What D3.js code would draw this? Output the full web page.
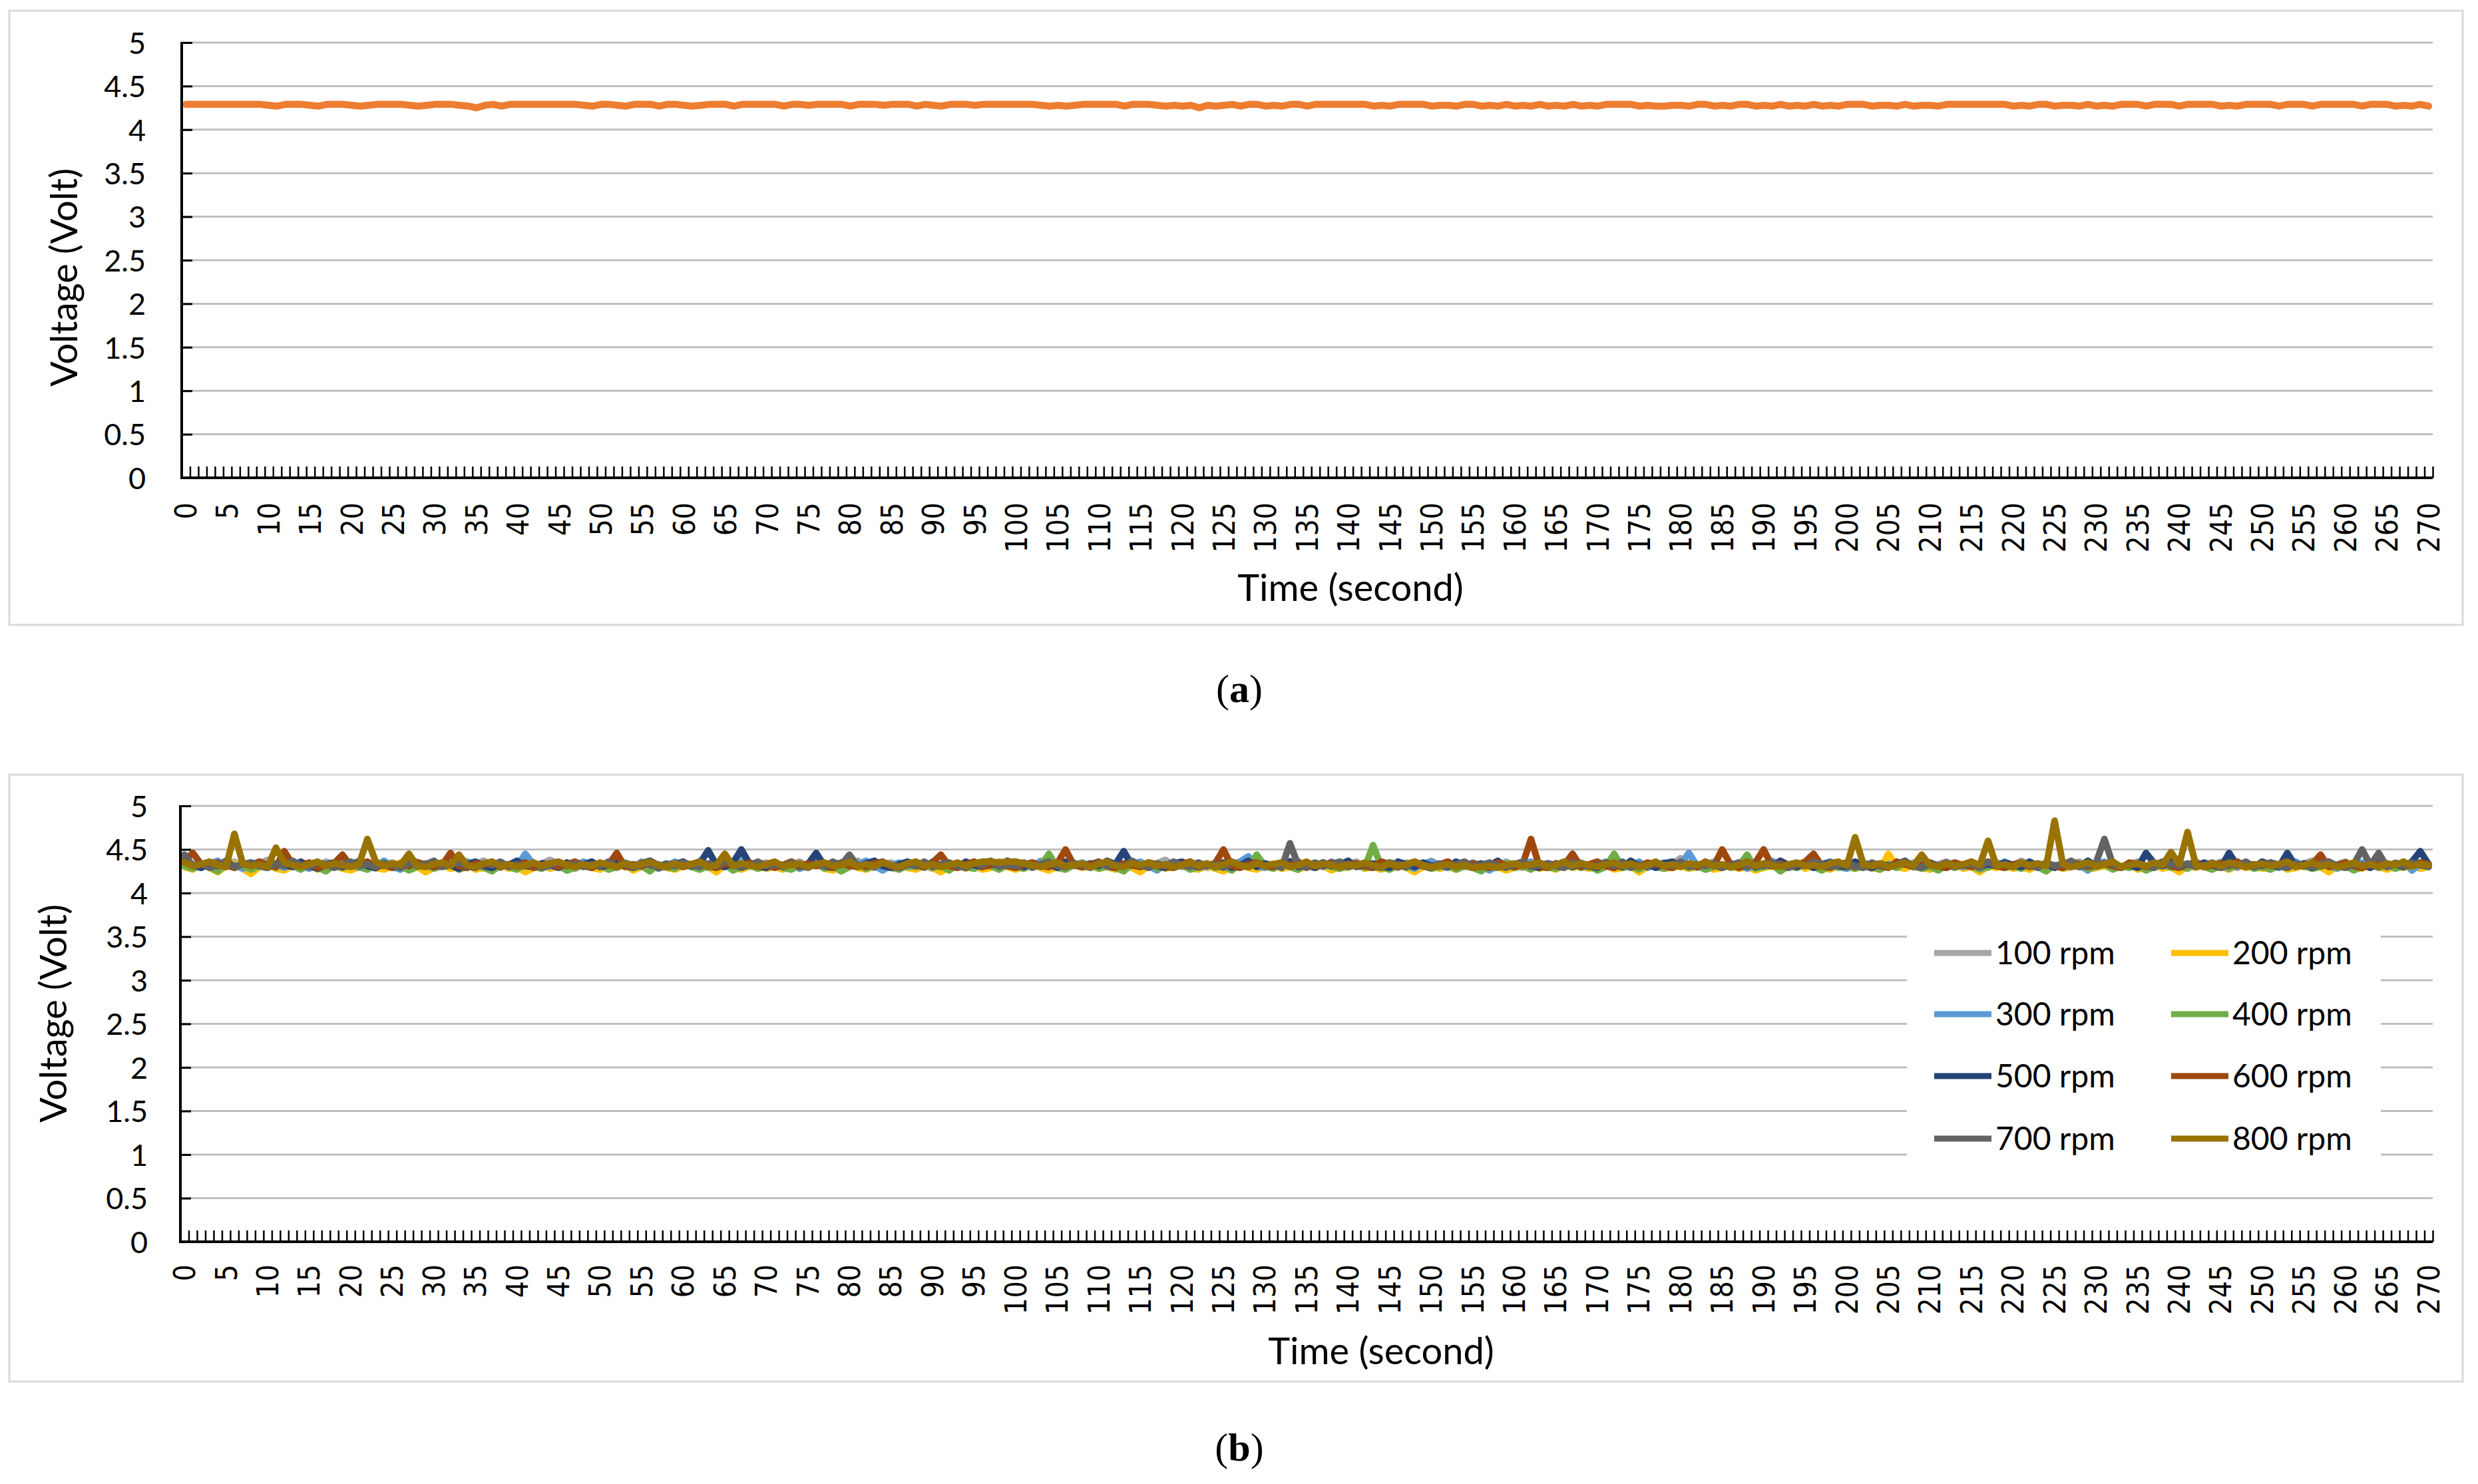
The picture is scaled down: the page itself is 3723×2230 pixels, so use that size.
<!DOCTYPE html>
<html><head><meta charset="utf-8">
<script src="https://cdn.jsdelivr.net/npm/d3@7"></script>
<style>html,body{margin:0;padding:0;background:#fff;}svg{display:block;}</style>
</head><body>
<div id="chart"></div>
<script>
// ---------- DATA ----------
const timeSeconds = d3.range(0, 271);             // categories 0..270 s
const yTickValues = [0,0.5,1,1.5,2,2.5,3,3.5,4,4.5,5];
const xLabelEvery = 5;

// Panel (a): single sensor voltage
const voltageA = [
4.29,4.29,4.29,4.29,4.29,4.29,4.29,4.29,4.29,4.29,
4.28,4.27,4.29,4.29,4.29,4.28,4.27,4.29,4.29,4.29,
4.28,4.27,4.28,4.29,4.29,4.29,4.29,4.28,4.27,4.28,
4.29,4.29,4.29,4.28,4.27,4.25,4.28,4.29,4.27,4.29,
4.29,4.29,4.29,4.29,4.29,4.29,4.29,4.29,4.28,4.27,
4.29,4.29,4.28,4.27,4.29,4.29,4.29,4.27,4.29,4.29,
4.28,4.27,4.28,4.29,4.29,4.29,4.27,4.29,4.29,4.29,
4.29,4.29,4.27,4.29,4.29,4.28,4.29,4.29,4.29,4.29,
4.27,4.29,4.29,4.29,4.28,4.29,4.29,4.29,4.27,4.29,
4.28,4.27,4.29,4.29,4.29,4.28,4.29,4.29,4.29,4.29,
4.29,4.29,4.29,4.28,4.27,4.28,4.27,4.28,4.29,4.29,
4.29,4.29,4.29,4.27,4.29,4.29,4.29,4.28,4.27,4.28,
4.27,4.28,4.25,4.28,4.27,4.28,4.29,4.27,4.29,4.29,
4.27,4.28,4.27,4.29,4.29,4.27,4.29,4.29,4.29,4.29,
4.29,4.29,4.29,4.27,4.28,4.27,4.29,4.29,4.29,4.29,
4.27,4.28,4.28,4.27,4.29,4.29,4.27,4.28,4.27,4.29,
4.27,4.28,4.27,4.29,4.27,4.28,4.27,4.29,4.27,4.28,
4.27,4.29,4.29,4.29,4.29,4.27,4.28,4.27,4.27,4.28,
4.28,4.27,4.29,4.29,4.27,4.28,4.27,4.29,4.29,4.27,
4.28,4.27,4.29,4.27,4.28,4.27,4.29,4.27,4.28,4.27,
4.29,4.29,4.29,4.27,4.28,4.28,4.27,4.29,4.27,4.28,
4.28,4.27,4.29,4.29,4.29,4.29,4.29,4.29,4.29,4.29,
4.27,4.28,4.27,4.29,4.29,4.27,4.28,4.28,4.27,4.29,
4.27,4.28,4.27,4.29,4.29,4.29,4.27,4.29,4.29,4.29,
4.27,4.29,4.29,4.29,4.29,4.27,4.28,4.27,4.29,4.29,
4.29,4.29,4.27,4.29,4.29,4.29,4.27,4.29,4.29,4.29,
4.29,4.29,4.27,4.29,4.29,4.29,4.27,4.28,4.27,4.29,
4.27];

// Panel (b): voltage at each motor speed
const seriesNames = ["100 rpm","200 rpm","300 rpm","400 rpm","500 rpm","600 rpm","700 rpm","800 rpm"];
const rpm100 = [
4.40,4.33,4.31,4.35,4.30,4.33,4.36,4.31,4.29,4.34,
4.38,4.32,4.30,4.35,4.33,4.29,4.31,4.36,4.33,4.30,
4.34,4.37,4.31,4.28,4.33,4.35,4.30,4.32,4.36,4.31,
4.29,4.33,4.35,4.31,4.30,4.34,4.37,4.32,4.29,4.33,
4.36,4.31,4.30,4.34,4.38,4.33,4.30,4.28,4.33,4.35,
4.31,4.29,4.34,4.32,4.30,4.36,4.33,4.29,4.31,4.35,
4.33,4.30,4.37,4.32,4.29,4.34,4.31,4.36,4.30,4.33,
4.35,4.31,4.28,4.33,4.36,4.30,4.32,4.35,4.29,4.31,
4.34,4.37,4.31,4.29,4.33,4.35,4.30,4.32,4.36,4.31,
4.28,4.33,4.35,4.30,4.32,4.34,4.29,4.31,4.36,4.33,
4.30,4.34,4.31,4.37,4.33,4.29,4.32,4.35,4.31,4.30,
4.35,4.32,4.29,4.33,4.36,4.31,4.30,4.34,4.38,4.32,
4.30,4.33,4.35,4.29,4.31,4.34,4.32,4.30,4.36,4.33,
4.31,4.29,4.34,4.37,4.32,4.30,4.33,4.35,4.31,4.28,
4.33,4.36,4.31,4.30,4.34,4.32,4.29,4.35,4.33,4.31,
4.37,4.32,4.30,4.33,4.35,4.29,4.31,4.34,4.30,4.36,
4.32,4.29,4.33,4.35,4.31,4.30,4.34,4.37,4.32,4.30,
4.33,4.36,4.31,4.29,4.35,4.32,4.30,4.34,4.31,4.33,
4.40,4.31,4.29,4.33,4.36,4.30,4.32,4.35,4.31,4.28,
4.34,4.37,4.32,4.30,4.33,4.35,4.29,4.31,4.36,4.33,
4.30,4.34,4.31,4.28,4.33,4.36,4.30,4.32,4.35,4.31,
4.29,4.33,4.36,4.31,4.30,4.34,4.32,4.29,4.35,4.33,
4.31,4.37,4.32,4.30,4.34,4.31,4.29,4.33,4.36,4.30,
4.32,4.35,4.31,4.29,4.33,4.36,4.30,4.32,4.34,4.31,
4.28,4.33,4.35,4.30,4.32,4.36,4.31,4.29,4.34,4.32,
4.30,4.35,4.33,4.29,4.31,4.34,4.37,4.32,4.30,4.33,
4.36,4.31,4.29,4.34,4.32,4.30,4.35,4.33,4.31,4.29,
4.34];
const rpm200 = [
4.30,4.27,4.33,4.29,4.24,4.31,4.34,4.28,4.22,4.30,
4.33,4.28,4.26,4.31,4.29,4.34,4.27,4.30,4.32,4.28,
4.26,4.30,4.33,4.29,4.27,4.31,4.35,4.28,4.30,4.24,
4.29,4.32,4.28,4.30,4.34,4.27,4.29,4.31,4.33,4.28,
4.30,4.24,4.29,4.33,4.28,4.31,4.27,4.30,4.34,4.29,
4.27,4.31,4.29,4.32,4.26,4.30,4.28,4.33,4.29,4.27,
4.31,4.34,4.28,4.30,4.24,4.32,4.29,4.27,4.31,4.33,
4.28,4.30,4.27,4.32,4.29,4.31,4.35,4.28,4.26,4.30,
4.33,4.29,4.27,4.31,4.28,4.30,4.34,4.29,4.27,4.31,
4.29,4.24,4.30,4.33,4.28,4.31,4.27,4.29,4.32,4.30,
4.27,4.31,4.34,4.29,4.26,4.30,4.28,4.33,4.29,4.31,
4.28,4.30,4.27,4.32,4.29,4.24,4.31,4.34,4.28,4.30,
4.33,4.29,4.27,4.31,4.28,4.25,4.30,4.32,4.29,4.27,
4.31,4.34,4.28,4.30,4.27,4.32,4.29,4.31,4.26,4.30,
4.29,4.33,4.28,4.30,4.27,4.31,4.34,4.29,4.24,4.30,
4.32,4.28,4.30,4.27,4.31,4.29,4.33,4.28,4.30,4.26,
4.29,4.31,4.34,4.28,4.30,4.27,4.32,4.29,4.31,4.28,
4.30,4.33,4.27,4.29,4.31,4.24,4.30,4.34,4.28,4.29,
4.31,4.28,4.30,4.33,4.27,4.29,4.32,4.28,4.30,4.26,
4.29,4.31,4.27,4.30,4.34,4.28,4.31,4.29,4.27,4.32,
4.30,4.28,4.31,4.29,4.27,4.45,4.30,4.28,4.32,4.29,
4.27,4.31,4.29,4.33,4.28,4.30,4.24,4.31,4.29,4.34,
4.28,4.30,4.27,4.32,4.29,4.31,4.28,4.30,4.33,4.27,
4.29,4.31,4.28,4.30,4.34,4.27,4.29,4.32,4.28,4.30,
4.24,4.31,4.29,4.33,4.28,4.30,4.27,4.32,4.29,4.31,
4.28,4.30,4.33,4.27,4.29,4.31,4.28,4.30,4.24,4.32,
4.29,4.31,4.28,4.34,4.30,4.27,4.31,4.29,4.32,4.28,
4.30];
const rpm300 = [
4.35,4.31,4.29,4.34,4.37,4.30,4.32,4.28,4.33,4.36,
4.30,4.33,4.29,4.35,4.31,4.28,4.34,4.32,4.30,4.36,
4.32,4.29,4.34,4.31,4.37,4.30,4.27,4.33,4.35,4.31,
4.29,4.34,4.32,4.30,4.36,4.33,4.29,4.31,4.35,4.32,
4.30,4.45,4.33,4.29,4.31,4.34,4.26,4.32,4.36,4.30,
4.33,4.31,4.29,4.35,4.32,4.30,4.34,4.28,4.31,4.36,
4.32,4.30,4.33,4.29,4.35,4.31,4.34,4.47,4.32,4.29,
4.31,4.35,4.30,4.33,4.28,4.32,4.36,4.31,4.29,4.34,
4.30,4.33,4.37,4.31,4.26,4.32,4.35,4.30,4.33,4.29,
4.36,4.32,4.30,4.34,4.31,4.28,4.33,4.35,4.30,4.32,
4.29,4.34,4.31,4.36,4.30,4.33,4.28,4.32,4.35,4.31,
4.33,4.30,4.29,4.34,4.32,4.36,4.31,4.26,4.33,4.30,
4.35,4.32,4.29,4.31,4.34,4.30,4.33,4.36,4.42,4.31,
4.29,4.33,4.35,4.31,4.28,4.32,4.34,4.30,4.36,4.32,
4.30,4.34,4.31,4.29,4.33,4.35,4.30,4.32,4.28,4.34,
4.36,4.31,4.29,4.33,4.30,4.35,4.32,4.26,4.31,4.34,
4.30,4.33,4.36,4.31,4.29,4.34,4.32,4.30,4.35,4.31,
4.28,4.33,4.30,4.34,4.31,4.36,4.29,4.32,4.35,4.30,
4.33,4.46,4.31,4.29,4.34,4.32,4.30,4.35,4.28,4.33,
4.31,4.36,4.30,4.32,4.29,4.34,4.31,4.33,4.36,4.30,
4.28,4.32,4.35,4.31,4.29,4.33,4.30,4.34,4.32,4.36,
4.31,4.29,4.33,4.35,4.30,4.32,4.28,4.34,4.31,4.36,
4.32,4.30,4.33,4.29,4.35,4.31,4.34,4.30,4.32,4.26,
4.33,4.36,4.31,4.29,4.34,4.32,4.30,4.35,4.31,4.33,
4.29,4.32,4.36,4.30,4.33,4.31,4.28,4.34,4.32,4.30,
4.35,4.31,4.29,4.33,4.36,4.30,4.32,4.34,4.31,4.28,
4.33,4.30,4.35,4.32,4.29,4.34,4.31,4.36,4.26,4.33,
4.31];
const rpm400 = [
4.31,4.28,4.34,4.30,4.25,4.33,4.29,4.32,4.27,4.31,
4.34,4.29,4.47,4.31,4.27,4.33,4.30,4.25,4.32,4.29,
4.33,4.30,4.27,4.32,4.35,4.29,4.31,4.26,4.30,4.34,
4.28,4.31,4.33,4.27,4.30,4.35,4.29,4.25,4.32,4.30,
4.27,4.33,4.30,4.28,4.34,4.31,4.26,4.29,4.33,4.30,
4.32,4.27,4.30,4.34,4.29,4.31,4.25,4.33,4.30,4.28,
4.34,4.30,4.27,4.31,4.29,4.33,4.26,4.30,4.32,4.28,
4.31,4.35,4.29,4.27,4.32,4.30,4.34,4.28,4.31,4.25,
4.30,4.33,4.28,4.31,4.35,4.29,4.27,4.32,4.30,4.34,
4.29,4.31,4.26,4.33,4.30,4.28,4.34,4.31,4.27,4.32,
4.30,4.28,4.33,4.31,4.45,4.29,4.27,4.32,4.30,4.34,
4.28,4.31,4.29,4.25,4.33,4.30,4.35,4.28,4.31,4.29,
4.32,4.27,4.30,4.34,4.29,4.31,4.26,4.33,4.30,4.44,
4.31,4.28,4.33,4.30,4.27,4.32,4.29,4.34,4.30,4.28,
4.31,4.33,4.29,4.55,4.30,4.27,4.32,4.29,4.34,4.31,
4.28,4.30,4.33,4.27,4.31,4.29,4.25,4.32,4.30,4.34,
4.29,4.31,4.27,4.33,4.30,4.28,4.32,4.35,4.29,4.31,
4.26,4.30,4.45,4.29,4.31,4.27,4.33,4.30,4.28,4.32,
4.34,4.29,4.31,4.27,4.30,4.33,4.29,4.31,4.44,4.28,
4.30,4.33,4.25,4.31,4.29,4.34,4.30,4.26,4.32,4.29,
4.31,4.28,4.33,4.30,4.27,4.32,4.29,4.34,4.31,4.28,
4.30,4.26,4.32,4.29,4.33,4.31,4.27,4.30,4.34,4.29,
4.31,4.28,4.33,4.30,4.25,4.32,4.29,4.31,4.34,4.28,
4.30,4.33,4.27,4.31,4.29,4.32,4.26,4.30,4.33,4.29,
4.31,4.28,4.34,4.30,4.27,4.32,4.29,4.31,4.33,4.28,
4.30,4.27,4.32,4.29,4.34,4.31,4.28,4.30,4.33,4.29,
4.31,4.26,4.30,4.33,4.29,4.32,4.28,4.31,4.30,4.34,
4.30];
const rpm500 = [
4.36,4.32,4.29,4.34,4.31,4.37,4.30,4.33,4.35,4.31,
4.29,4.34,4.32,4.30,4.36,4.31,4.28,4.33,4.35,4.30,
4.32,4.36,4.31,4.29,4.34,4.32,4.30,4.37,4.31,4.33,
4.30,4.35,4.32,4.28,4.33,4.36,4.31,4.29,4.34,4.32,
4.37,4.31,4.30,4.34,4.32,4.29,4.35,4.31,4.33,4.36,
4.30,4.32,4.35,4.31,4.29,4.34,4.37,4.32,4.30,4.33,
4.36,4.31,4.34,4.49,4.32,4.30,4.35,4.50,4.33,4.31,
4.29,4.34,4.32,4.36,4.30,4.33,4.46,4.31,4.29,4.35,
4.32,4.30,4.34,4.37,4.31,4.29,4.33,4.36,4.32,4.30,
4.35,4.31,4.33,4.29,4.36,4.32,4.30,4.34,4.31,4.37,
4.32,4.30,4.35,4.31,4.33,4.29,4.36,4.32,4.30,4.34,
4.31,4.37,4.33,4.48,4.32,4.30,4.35,4.31,4.29,4.34,
4.36,4.32,4.30,4.33,4.31,4.35,4.29,4.32,4.37,4.30,
4.34,4.31,4.33,4.36,4.30,4.32,4.29,4.35,4.31,4.33,
4.37,4.30,4.32,4.34,4.31,4.29,4.36,4.33,4.30,4.35,
4.31,4.33,4.30,4.36,4.32,4.29,4.34,4.31,4.37,4.30,
4.33,4.35,4.31,4.29,4.34,4.32,4.36,4.30,4.33,4.31,
4.29,4.35,4.32,4.30,4.37,4.31,4.33,4.29,4.34,4.36,
4.31,4.33,4.30,4.35,4.32,4.29,4.34,4.31,4.36,4.30,
4.33,4.31,4.37,4.32,4.30,4.34,4.29,4.33,4.35,4.31,
4.30,4.36,4.32,4.29,4.34,4.31,4.33,4.37,4.30,4.32,
4.35,4.31,4.29,4.34,4.32,4.36,4.30,4.33,4.31,4.35,
4.32,4.30,4.36,4.31,4.33,4.29,4.34,4.32,4.30,4.37,
4.31,4.33,4.35,4.30,4.32,4.29,4.46,4.34,4.31,4.36,
4.30,4.33,4.31,4.35,4.32,4.29,4.46,4.31,4.33,4.30,
4.36,4.32,4.30,4.46,4.31,4.34,4.29,4.33,4.36,4.31,
4.30,4.34,4.32,4.29,4.35,4.31,4.33,4.30,4.36,4.48,
4.33];
const rpm600 = [
4.38,4.46,4.33,4.30,4.35,4.32,4.29,4.34,4.31,4.36,
4.32,4.30,4.48,4.33,4.31,4.35,4.29,4.32,4.34,4.44,
4.31,4.33,4.36,4.30,4.32,4.29,4.34,4.31,4.35,4.33,
4.30,4.32,4.46,4.31,4.29,4.34,4.32,4.36,4.30,4.33,
4.31,4.35,4.29,4.32,4.34,4.30,4.33,4.36,4.31,4.29,
4.34,4.32,4.46,4.30,4.33,4.31,4.35,4.29,4.32,4.34,
4.30,4.33,4.36,4.31,4.29,4.34,4.32,4.30,4.35,4.31,
4.33,4.29,4.32,4.36,4.30,4.34,4.31,4.33,4.29,4.35,
4.31,4.32,4.30,4.34,4.36,4.31,4.29,4.33,4.32,4.30,
4.35,4.44,4.31,4.29,4.33,4.36,4.30,4.32,4.34,4.31,
4.29,4.33,4.35,4.31,4.30,4.34,4.50,4.32,4.30,4.33,
4.36,4.31,4.29,4.34,4.32,4.30,4.35,4.33,4.31,4.29,
4.33,4.36,4.30,4.32,4.34,4.50,4.31,4.29,4.33,4.35,
4.31,4.30,4.34,4.32,4.36,4.29,4.33,4.31,4.35,4.30,
4.32,4.34,4.31,4.29,4.36,4.33,4.30,4.32,4.35,4.31,
4.29,4.33,4.36,4.30,4.32,4.34,4.31,4.29,4.35,4.32,
4.30,4.33,4.62,4.31,4.29,4.34,4.32,4.45,4.30,4.33,
4.36,4.31,4.29,4.34,4.32,4.30,4.35,4.33,4.31,4.29,
4.34,4.32,4.30,4.36,4.31,4.50,4.33,4.29,4.32,4.35,
4.50,4.31,4.34,4.30,4.32,4.36,4.45,4.31,4.29,4.33,
4.35,4.30,4.32,4.34,4.31,4.29,4.36,4.33,4.30,4.32,
4.34,4.31,4.29,4.35,4.32,4.30,4.33,4.36,4.31,4.29,
4.33,4.35,4.30,4.32,4.34,4.31,4.29,4.36,4.33,4.30,
4.32,4.34,4.31,4.29,4.35,4.33,4.30,4.32,4.36,4.31,
4.29,4.33,4.35,4.30,4.32,4.34,4.31,4.36,4.30,4.33,
4.31,4.35,4.32,4.29,4.34,4.31,4.33,4.44,4.30,4.32,
4.35,4.31,4.29,4.33,4.36,4.30,4.34,4.32,4.31,4.35,
4.33];
const rpm700 = [
4.44,4.31,4.34,4.29,4.32,4.36,4.30,4.33,4.35,4.31,
4.29,4.34,4.31,4.37,4.32,4.30,4.35,4.33,4.29,4.32,
4.36,4.31,4.33,4.30,4.34,4.32,4.29,4.35,4.31,4.33,
4.37,4.30,4.32,4.35,4.31,4.29,4.34,4.32,4.36,4.30,
4.33,4.31,4.35,4.29,4.32,4.36,4.31,4.34,4.30,4.33,
4.31,4.36,4.30,4.33,4.29,4.35,4.32,4.30,4.34,4.31,
4.35,4.32,4.30,4.34,4.31,4.37,4.33,4.29,4.32,4.36,
4.31,4.33,4.30,4.35,4.32,4.29,4.34,4.31,4.36,4.32,
4.44,4.31,4.33,4.30,4.35,4.32,4.29,4.34,4.31,4.36,
4.30,4.33,4.35,4.31,4.29,4.34,4.32,4.37,4.30,4.33,
4.31,4.35,4.29,4.33,4.36,4.31,4.30,4.34,4.32,4.29,
4.35,4.31,4.33,4.30,4.37,4.32,4.29,4.34,4.31,4.36,
4.32,4.30,4.35,4.31,4.33,4.29,4.36,4.32,4.30,4.34,
4.31,4.33,4.29,4.57,4.32,4.30,4.35,4.31,4.33,4.36,
4.30,4.32,4.34,4.31,4.29,4.35,4.33,4.30,4.36,4.32,
4.29,4.34,4.31,4.33,4.36,4.30,4.32,4.35,4.31,4.29,
4.33,4.36,4.30,4.32,4.34,4.31,4.29,4.35,4.33,4.30,
4.32,4.34,4.31,4.36,4.29,4.33,4.30,4.35,4.32,4.31,
4.36,4.30,4.33,4.31,4.34,4.29,4.32,4.35,4.30,4.33,
4.31,4.35,4.32,4.29,4.34,4.31,4.36,4.33,4.30,4.32,
4.34,4.31,4.29,4.35,4.32,4.30,4.33,4.36,4.31,4.29,
4.33,4.31,4.35,4.30,4.32,4.34,4.29,4.36,4.31,4.33,
4.30,4.34,4.32,4.29,4.35,4.31,4.33,4.37,4.30,4.32,
4.35,4.62,4.33,4.30,4.32,4.34,4.31,4.29,4.36,4.33,
4.31,4.34,4.30,4.32,4.35,4.29,4.33,4.31,4.36,4.30,
4.32,4.35,4.31,4.29,4.34,4.32,4.30,4.33,4.36,4.31,
4.29,4.33,4.50,4.32,4.46,4.30,4.34,4.31,4.35,4.32,
4.30];
const rpm800 = [
4.35,4.31,4.33,4.36,4.32,4.30,4.68,4.34,4.31,4.33,
4.30,4.52,4.35,4.32,4.30,4.33,4.36,4.31,4.34,4.32,
4.30,4.33,4.62,4.36,4.31,4.34,4.32,4.45,4.31,4.30,
4.33,4.35,4.31,4.44,4.32,4.30,4.34,4.36,4.31,4.33,
4.30,4.32,4.35,4.31,4.34,4.36,4.32,4.30,4.33,4.31,
4.35,4.32,4.30,4.34,4.31,4.33,4.36,4.32,4.30,4.34,
4.31,4.33,4.36,4.30,4.32,4.45,4.31,4.34,4.32,4.30,
4.33,4.36,4.31,4.32,4.34,4.30,4.33,4.35,4.31,4.32,
4.36,4.30,4.33,4.31,4.35,4.32,4.30,4.34,4.36,4.31,
4.33,4.30,4.32,4.35,4.31,4.34,4.36,4.36,4.35,4.36,
4.36,4.34,4.32,4.30,4.33,4.35,4.31,4.32,4.34,4.30,
4.33,4.36,4.31,4.30,4.34,4.32,4.35,4.31,4.33,4.30,
4.32,4.35,4.31,4.34,4.30,4.33,4.36,4.32,4.30,4.34,
4.31,4.33,4.35,4.30,4.32,4.36,4.31,4.34,4.32,4.30,
4.33,4.31,4.35,4.32,4.30,4.34,4.31,4.33,4.36,4.32,
4.30,4.31,4.33,4.30,4.32,4.29,4.30,4.31,4.29,4.32,
4.34,4.31,4.33,4.35,4.30,4.32,4.36,4.31,4.34,4.32,
4.30,4.33,4.35,4.31,4.34,4.30,4.32,4.36,4.31,4.33,
4.30,4.34,4.32,4.35,4.31,4.33,4.30,4.32,4.36,4.31,
4.34,4.32,4.30,4.33,4.35,4.31,4.32,4.30,4.34,4.36,
4.31,4.64,4.33,4.31,4.34,4.30,4.32,4.35,4.31,4.44,
4.32,4.30,4.34,4.31,4.33,4.36,4.32,4.60,4.31,4.33,
4.30,4.35,4.32,4.34,4.31,4.83,4.33,4.30,4.32,4.35,
4.31,4.33,4.36,4.30,4.32,4.34,4.31,4.35,4.32,4.47,
4.33,4.70,4.32,4.30,4.34,4.31,4.35,4.33,4.30,4.32,
4.34,4.31,4.33,4.36,4.30,4.32,4.35,4.31,4.33,4.30,
4.32,4.35,4.31,4.33,4.30,4.34,4.32,4.36,4.31,4.33,
4.32];
const seriesB = [rpm100, rpm200, rpm300, rpm400, rpm500, rpm600, rpm700, rpm800];
const colorA = "#ED7D31";
const colorsB = ["#A5A5A5","#FFC000","#5B9BD5","#70AD47","#264478","#9E480E","#636363","#997300"];

// ---------- LAYOUT ----------
const W = 3723, H = 2230;
const svg = d3.select("#chart").append("svg").attr("width", W).attr("height", H)
  .style("font-family", "Lato, 'Open Sans', sans-serif");

const panels = [
  { frame:{x:14,y:16,w:3686,h:923}, xL:273, xR:3655, yT:64, yB:718, labTop:755,
    xTitle:[2029,903], yTitle:[116,417], tickRight:219, caption:[1862,1055], letter:"a", lineW:10.5 },
  { frame:{x:14,y:1164,w:3686,h:912}, xL:271, xR:3655, yT:1211, yB:1866, labTop:1900,
    xTitle:[2075,2050], yTitle:[100,1523], tickRight:222, caption:[1862,2195], letter:"b", lineW:10 }
];

function drawPanel(p, seriesList, colors, legend) {
  const g = svg.append("g");
  g.append("rect").attr("x", p.frame.x).attr("y", p.frame.y).attr("width", p.frame.w).attr("height", p.frame.h)
    .attr("fill", "#fff").attr("stroke", "#d9d9d9").attr("stroke-width", 3);

  const x = d3.scaleBand().domain(timeSeconds).range([p.xL, p.xR]).paddingInner(0).paddingOuter(0);
  const xb = d3.scaleLinear().domain([0, timeSeconds.length]).range([p.xL, p.xR]);
  const y = d3.scaleLinear().domain([0, 5]).range([p.yB, p.yT]);

  // gridlines
  g.append("g").selectAll("line").data(yTickValues.filter(v => v > 0)).join("line")
    .attr("x1", p.xL).attr("x2", p.xR).attr("y1", d => y(d)).attr("y2", d => y(d))
    .attr("stroke", "#bfbfbf").attr("stroke-width", 3);

  // legend box (under the lines)
  if (legend) {
    g.append("rect").attr("x", 2865).attr("y", 1362).attr("width", 712).attr("height", 406).attr("fill", "#fff");
  }

  // lines
  const line = d3.line().x((d, i) => x(timeSeconds[i]) + x.bandwidth() / 2).y(d => y(d)).curve(d3.curveLinear);
  seriesList.forEach((s, k) => {
    g.append("path").datum(s).attr("d", line).attr("fill", "none")
      .attr("stroke", colors[k]).attr("stroke-width", p.lineW)
      .attr("stroke-linejoin", "round").attr("stroke-linecap", "round");
  });

  // y axis
  const ya = d3.axisLeft(y).tickValues(yTickValues).tickSize(-16).tickPadding(p.xL - p.tickRight)
    .tickFormat(d3.format("~g"));
  const yg = g.append("g").attr("transform", `translate(${p.xL},0)`).call(ya);
  yg.select(".domain").remove();
  yg.selectAll(".tick line").attr("stroke", "#000").attr("stroke-width", 3);
  yg.selectAll(".tick text").attr("font-size", 45).attr("fill", "#000")
    .attr("font-family", "Lato, sans-serif").attr("dy", "0.36em");
  g.append("line").attr("x1", p.xL).attr("x2", p.xL).attr("y1", p.yT - 1).attr("y2", p.yB)
    .attr("stroke", "#000").attr("stroke-width", 4);

  // x axis: tick marks at category boundaries (inside), labels every 5 s
  const xa = d3.axisBottom(xb).tickValues(d3.range(0, timeSeconds.length + 1)).tickSize(-17).tickFormat("");
  const xg = g.append("g").attr("transform", `translate(0,${p.yB})`).call(xa);
  xg.select(".domain").remove();
  xg.selectAll(".tick line").attr("stroke", "#000").attr("stroke-width", 2.5);
  g.append("line").attr("x1", p.xL - 2).attr("x2", p.xR).attr("y1", p.yB).attr("y2", p.yB)
    .attr("stroke", "#000").attr("stroke-width", 4);

  g.append("g").selectAll("text").data(timeSeconds.filter(t => t % xLabelEvery === 0)).join("text")
    .attr("transform", t => `translate(${x(t) + x.bandwidth() / 2},${p.labTop}) rotate(-90)`)
    .attr("text-anchor", "end").attr("dy", "0.36em")
    .attr("font-family", "'DejaVu Sans Condensed', 'DejaVu Sans', sans-serif").style("font-stretch", "condensed")
    .attr("font-size", 44).attr("fill", "#000").text(t => t);

  // axis titles
  g.append("text").attr("x", p.xTitle[0]).attr("y", p.xTitle[1]).attr("text-anchor", "middle")
    .attr("font-size", 56).attr("fill", "#000").text("Time (second)");
  g.append("text").attr("transform", `translate(${p.yTitle[0]},${p.yTitle[1]}) rotate(-90)`)
    .attr("text-anchor", "middle").attr("font-size", 56).attr("fill", "#000").text("Voltage (Volt)");

  // caption
  const cap = svg.append("text").attr("x", p.caption[0]).attr("y", p.caption[1]).attr("text-anchor", "middle")
    .attr("font-family", "'Liberation Serif', 'DejaVu Serif', serif").attr("font-size", 60).attr("fill", "#000");
  cap.append("tspan").text("(");
  cap.append("tspan").attr("font-weight", "bold").text(p.letter);
  cap.append("tspan").text(")");

  if (legend) {
    const rowsY = [1432, 1524, 1617, 1711];
    const colX = [2906, 3262];
    const lg = g.append("g");
    seriesNames.forEach((name, k) => {
      const cx = colX[k % 2], cy = rowsY[Math.floor(k / 2)];
      lg.append("line").attr("x1", cx).attr("x2", cx + 86).attr("y1", cy).attr("y2", cy)
        .attr("stroke", colors[k]).attr("stroke-width", 9).attr("stroke-linecap", "butt");
      lg.append("text").attr("x", cx + 92).attr("y", cy).attr("dy", "0.36em")
        .attr("font-size", 48).attr("fill", "#000").text(name);
    });
  }
}

drawPanel(panels[0], [voltageA], [colorA], false);
drawPanel(panels[1], seriesB, colorsB, true);
</script>
</body></html>
